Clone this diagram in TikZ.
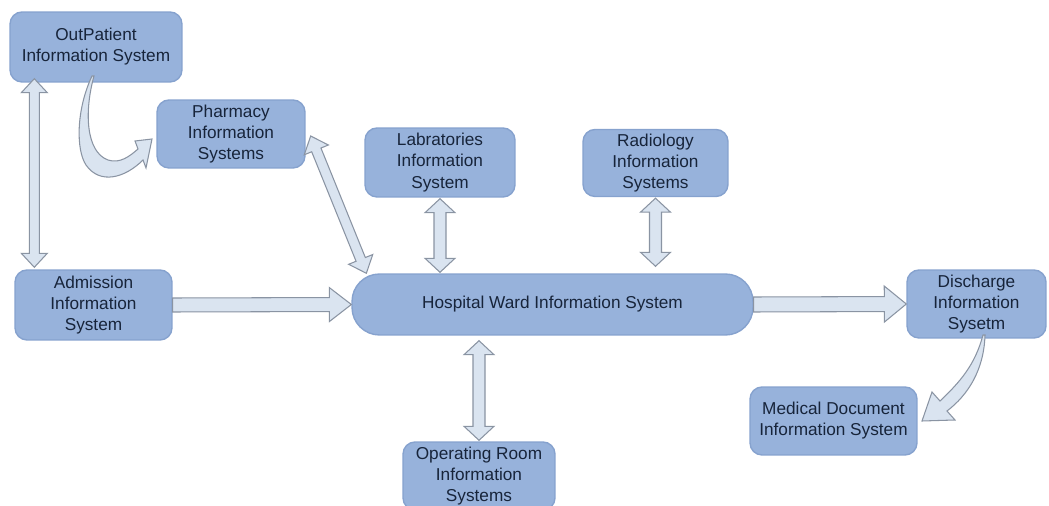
\documentclass[tikz,border=0pt]{standalone}
\usepackage{fontspec}
\setmainfont{Liberation Sans}
\usetikzlibrary{calc}
\definecolor{boxfill}{HTML}{97B2DB}
\definecolor{boxline}{HTML}{86A2CE}
\definecolor{txt}{HTML}{17243A}
\definecolor{arrfill}{HTML}{DAE4F0}
\definecolor{arrline}{HTML}{8A94A3}
\tikzset{
  sysbox/.style={draw=boxline, line width=0.8pt, fill=boxfill, rounded corners=0.24cm,
    align=center, inner sep=0pt, text=txt, font=\fontsize{9.8}{12}\selectfont},
  barrow/.style={draw=arrline, fill=arrfill, line width=0.6pt, line join=miter},
}
% double-headed block arrow: #1,#2 tips, #3 shaft half width, #4 head half width, #5 head length
\newcommand\dblbar[5]{%
  \coordinate (ba) at ($(#1)!#5!(#2)$);
  \coordinate (bb) at ($(#2)!#5!(#1)$);
  \draw[barrow] (#1) -- ($(ba)!#4!90:(#2)$) -- ($(ba)!#3!90:(#2)$) -- ($(bb)!#3!-90:(#1)$)
    -- ($(bb)!#4!-90:(#1)$) -- (#2) -- ($(bb)!#4!90:(#1)$) -- ($(bb)!#3!90:(#1)$)
    -- ($(ba)!#3!-90:(#2)$) -- ($(ba)!#4!-90:(#2)$) -- cycle;}
% single-headed block arrow from #1 to tip #2
\newcommand\sglbar[5]{%
  \coordinate (bb) at ($(#2)!#5!(#1)$);
  \draw[barrow] ($(#1)!#3!90:(#2)$) -- ($(bb)!#3!-90:(#1)$) -- ($(bb)!#4!-90:(#1)$) -- (#2)
    -- ($(bb)!#4!90:(#1)$) -- ($(bb)!#3!90:(#1)$) -- ($(#1)!#3!-90:(#2)$) -- cycle;}
\begin{document}
\begin{tikzpicture}[x=0.02cm,y=-0.02cm]
\useasboundingbox (0,0) rectangle (1049,506);
\clip (0,0) rectangle (1049,506);

\node[sysbox, minimum width=3.44cm, minimum height=1.4cm] (out) at (96,47) {OutPatient\\Information System};
\node[sysbox, minimum width=2.96cm, minimum height=1.36cm] (pharm) at (231,134) {Pharmacy\\Information\\Systems};
\node[sysbox, minimum width=3.0cm, minimum height=1.38cm] (lab) at (440,162.5) {Labratories\\Information\\System};
\node[sysbox, minimum width=2.9cm, minimum height=1.34cm] (rad) at (655.5,163) {Radiology\\Information\\Systems};
\node[sysbox, minimum width=3.14cm, minimum height=1.4cm] (adm) at (93.5,305) {Admission\\Information\\System};
\node[sysbox, rounded corners=0.55cm, minimum width=8.02cm, minimum height=1.22cm] (ward) at (552.5,304.5) {Hospital Ward Information System};
\node[sysbox, minimum width=2.78cm, minimum height=1.36cm] (dis) at (976.5,304) {Discharge\\Information\\Sysetm};
\node[sysbox, minimum width=3.34cm, minimum height=1.36cm] (med) at (833.5,421) {Medical Document\\Information System};
\node[sysbox, minimum width=3.04cm, minimum height=1.36cm] (op) at (479,476) {Operating Room\\Information\\Systems};

% straight block arrows
\coordinate (t1) at ($(out.south west)+(25,-4)$);
\coordinate (t2) at ($(adm.north west)+(20,-2)$);
\dblbar{t1}{t2}{0.1cm}{0.26cm}{0.28cm}

\coordinate (p1) at ($(pharm.east)+(5,2)$);
\coordinate (p2) at ($(ward.north west)+(15,0)$);
\dblbar{p1}{p2}{0.1cm}{0.26cm}{0.3cm}

\coordinate (l1) at ($(lab.south)+(0,1)$);
\coordinate (l2) at ($(lab.south |- ward.north)+(0,-1)$);
\dblbar{l1}{l2}{0.12cm}{0.3cm}{0.28cm}

\coordinate (r1) at ($(rad.south)+(0,1)$);
\coordinate (r2) at ($(rad.south |- ward.north)+(0,-7)$);
\dblbar{r1}{r2}{0.12cm}{0.3cm}{0.28cm}

\coordinate (o1) at ($(op.north |- ward.south)+(0,5)$);
\coordinate (o2) at ($(op.north)+(0,-1)$);
\dblbar{o1}{o2}{0.12cm}{0.3cm}{0.28cm}

\sglbar{adm.east}{ward.west}{0.14cm}{0.34cm}{0.44cm}
\sglbar{ward.east}{dis.west}{0.15cm}{0.36cm}{0.44cm}

% curved block arrows
\draw[barrow] (94,76) .. controls (84,112) and (86,152) .. (108,160)
  .. controls (120,164) and (130,156) .. (138,149) -- (135,141) -- (152,139) -- (146,168) -- (143,160)
  .. controls (125,178) and (100,185) .. (86,165)
  .. controls (76,150) and (76,110) .. (92,76) -- cycle;
\draw[barrow] (983,335) .. controls (975,365) and (960,382) .. (940,401) -- (932,392) -- (922,421)
  -- (955,420) -- (947,411) .. controls (968,395) and (984,370) .. (985,335) -- cycle;
\end{tikzpicture}
\end{document}
